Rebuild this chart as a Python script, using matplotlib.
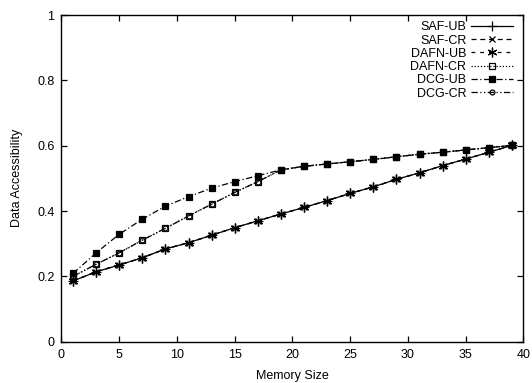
import matplotlib
matplotlib.use("Agg")
import matplotlib.pyplot as plt

plt.rcParams['font.family'] = ['Liberation Sans', 'DejaVu Sans']

memory = [1, 3, 5, 7, 9, 11, 13, 15, 17, 19, 21, 23, 25, 27, 29, 31, 33, 35, 37, 39]

saf_ub = [0.186, 0.214, 0.235, 0.257, 0.284, 0.303, 0.326, 0.349, 0.370, 0.391,
          0.411, 0.432, 0.454, 0.474, 0.497, 0.517, 0.539, 0.559, 0.580, 0.601]
saf_cr = list(saf_ub)
dafn_ub = list(saf_ub)
dafn_cr = [0.200, 0.237, 0.272, 0.311, 0.347, 0.385, 0.421, 0.457, 0.490, 0.526,
           0.537, 0.544, 0.551, 0.558, 0.566, 0.574, 0.580, 0.587, 0.594, 0.601]
dcg_ub = [0.209, 0.272, 0.329, 0.375, 0.415, 0.444, 0.470, 0.490, 0.508, 0.526,
          0.537, 0.544, 0.551, 0.558, 0.566, 0.574, 0.580, 0.587, 0.594, 0.601]
dcg_cr = list(dafn_cr)

labels = ['SAF-UB', 'SAF-CR', 'DAFN-UB', 'DAFN-CR', 'DCG-UB', 'DCG-CR']
series = [saf_ub, saf_cr, dafn_ub, dafn_cr, dcg_ub, dcg_cr]
styles = [
    dict(linestyle='-', marker='+', markersize=7),
    dict(linestyle=(0, (4, 3)), marker='x', markersize=5),
    dict(linestyle=(0, (3, 4)), marker=(6, 2, 0), markersize=7),
    dict(linestyle=(0, (1, 1.5)), marker='s', markersize=5, fillstyle='none'),
    dict(linestyle=(0, (5, 2, 1, 2)), marker='s', markersize=5),
    dict(linestyle=(0, (5, 2, 1, 2, 1, 2)), marker='o', markersize=3.5, fillstyle='none'),
]

fig = plt.figure(figsize=(5.32, 3.83), dpi=100)
ax = fig.add_axes([0.1156, 0.1078, 0.8684, 0.853])

for lab, ys, st in zip(labels, series, styles):
    ax.plot(memory, ys, color='black', linewidth=0.9, markeredgewidth=0.9,
            label=lab, **st)

ax.set_xlim(0, 40)
ax.set_ylim(0, 1)
ax.set_xticks([0, 5, 10, 15, 20, 25, 30, 35, 40])
ax.set_yticks([0, 0.2, 0.4, 0.6, 0.8, 1])
ax.set_yticklabels(['0', '0.2', '0.4', '0.6', '0.8', '1'])
ax.tick_params(direction='in', top=True, right=True, length=4, width=0.9,
               labelsize=9, pad=5)
for sp in ax.spines.values():
    sp.set_linewidth(1.0)
ax.set_xlabel('Memory Size', fontsize=9, labelpad=6.5)
ax.set_ylabel('Data Accessibility', fontsize=9, labelpad=10)

leg = ax.legend(loc='upper right', frameon=False, markerfirst=False, fontsize=9,
                handlelength=3.3, labelspacing=0.1, handletextpad=0.4,
                borderaxespad=0.1, bbox_to_anchor=(0.99, 1.0))
fig.canvas.draw()
renderer = fig.canvas.get_renderer()
texts = leg.get_texts()
exts = [t.get_window_extent(renderer) for t in texts]
right_edge = max(e.x1 for e in exts)
for t, e in zip(texts, exts):
    fig.text(right_edge / fig.dpi / fig.get_figwidth(),
             e.y0 / fig.dpi / fig.get_figheight(),
             t.get_text(), ha='right', va='bottom', fontsize=9)
    t.set_visible(False)

fig.savefig('out.png', dpi=100)
